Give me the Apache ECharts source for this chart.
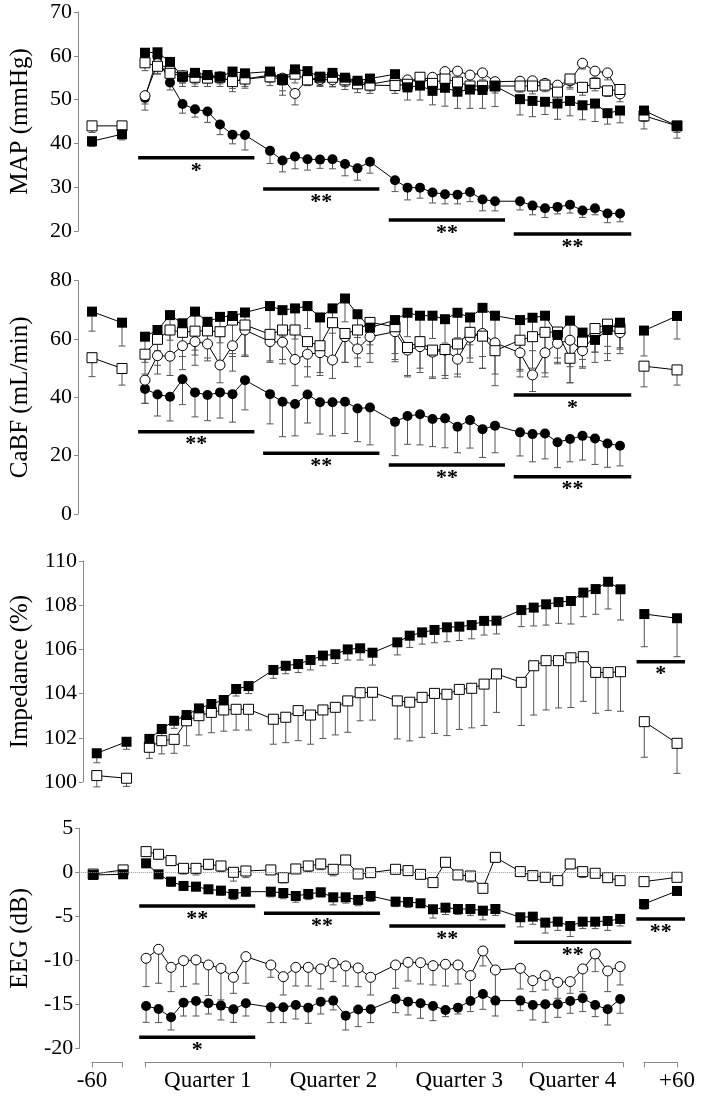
<!DOCTYPE html>
<html><head><meta charset="utf-8">
<script src="https://cdn.jsdelivr.net/npm/echarts@6/dist/echarts.min.js"></script>
<style>html,body{margin:0;padding:0;background:#fff}#c{width:703px;height:1102px}</style>
</head><body><div id="c"></div>
<script>
const N = null;
// x positions (slot units): pre (-60), four quarters of 9 samples, post (+60)
const xPre = [-4.24, -1.84];
const xMain = [0,1,2,3,4,5,6,7,8, 10,11,12,13,14,15,16,17,18, 20,21,22,23,24,25,26,27,28, 30,31,32,33,34,35,36,37,38];
const xPost = [39.92, 42.56];
const xAll = xPre.concat(xMain, xPost);
const sideLabels = ['-60', '+60'];
const quarterLabels = ['Quarter 1', 'Quarter 2', 'Quarter 3', 'Quarter 4'];
const yNames = ['MAP (mmHg)', 'CaBF (mL/min)', 'Impedance (%)', 'EEG (dB)'];

// ---------- MAP ----------
const mapSqF   = [40.5,42.1, 60.7,60.8,58.6,55.2,56.1,55.6,55.2,56.4,56.0, 56.4,54.5,56.9,56.5,55.2,56.1,55.0,54.3,54.8, 55.8,52.8,53.2,52.0,52.7,51.8,52.3,52.2,53.1, 50.1,49.7,49.5,49.1,49.7,48.7,49.1,46.9,47.5, 47.5,44.0];
const mapSqFLo = [39.3,40.8, 59.3,59.5,57.0,53.8,54.8,54.3,53.9,55.0,54.7, 55.0,51.0,55.3,55.0,53.6,54.7,53.4,52.6,53.2, 53.9,49.9,49.9,48.8,48.5,48.0,48.0,48.0,48.4, 46.5,46.1,46.6,45.5,46.3,45.4,45.0,44.4,44.7, 45.0,41.2];
const mapSqO   = [44.0,44.0, 58.4,57.6,56.0,55.4,55.1,54.9,55.1,54.1,54.7, 55.2,54.6,55.8,54.5,55.1,55.1,54.5,53.6,53.3, 53.2,53.5,55.1,53.7,54.7,54.0,53.1,53.1,53.1, 53.1,53.1,53.3,51.7,54.7,52.8,53.7,52.0,52.3, 46.3,44.0];
const mapSqOLo = [42.5,43.0, 56.6,55.8,54.0,53.0,53.0,53.0,53.0,51.8,52.6, 53.2,52.0,53.8,53.2,53.2,52.9,52.3,51.6,51.4, 51.4,51.8,53.4,51.6,52.9,52.4,51.5,51.5,51.5, 51.7,51.3,51.8,50.0,52.4,51.0,52.0,50.7,50.8, 43.3,42.5];
const mapCiO   = [N,N, 50.9,58.2,57.0,55.4,55.2,55.4,55.2,54.1,54.7, 55.6,54.9,51.4,54.6,54.6,54.5,54.5,54.1,53.5, 54.5,54.5,54.5,55.1,56.4,56.5,55.6,56.1,54.1, 54.2,54.3,53.7,53.3,54.3,58.3,56.5,56.1,51.3, N,N];
const mapCiOLo = [N,N, 49.0,56.0,55.5,53.8,53.6,53.8,53.6,52.5,53.0, 54.0,53.3,48.8,53.2,53.0,53.0,53.0,52.5,52.0, 53.0,53.0,53.0,53.6,54.9,55.0,54.1,54.5,52.6, 52.7,52.8,52.3,52.0,52.8,57.0,55.0,54.5,49.5, N,N];
const mapCiF   = [N,N, 50.4,59.7,53.9,49.0,47.8,47.3,44.3,42.0,41.9, 38.3,36.1,37.0,36.4,36.3,36.4,35.3,34.3,35.8, 31.6,29.9,29.9,28.8,28.4,28.3,28.9,27.2,26.8, 26.8,25.8,25.2,25.5,26.0,24.7,25.2,24.0,24.0, N,N];
const mapCiFLo = [N,N, 47.6,58.0,52.2,46.9,46.0,44.8,42.0,39.9,38.5, 35.4,33.5,34.2,33.9,34.3,34.2,32.6,31.6,33.2, 29.0,27.1,27.5,26.4,26.2,26.2,26.7,24.6,24.6, 24.8,23.7,23.1,23.9,24.1,23.1,23.7,21.9,22.1, N,N];
const mapSig = [[-0.55,8.75,36.7,'*'],[9.45,18.75,29.6,'**'],[19.5,28.8,22.5,'**'],[29.5,38.9,19.3,'**']];

// ---------- CaBF ----------
const cbfSqF   = [69.4,65.6, 60.8,63.1,68.2,65.4,69.4,65.9,67.6,67.9,69.1, 71.3,69.9,70.5,71.3,67.4,70.5,73.9,68.5,63.9, 66.5,69.0,68.0,68.0,66.8,69.0,67.4,70.7,68.0, 66.5,67.3,68.0,61.4,66.3,62.2,59.7,63.1,65.6, 62.9,67.9];
const cbfSqFLo = [62.7,57.6, 52.0,56.0,59.6,58.0,56.2,57.5,58.7,54.0,54.5, 62.0,61.0,60.0,63.6,57.9,62.0,65.9,60.5,58.0, 52.2,60.8,60.2,60.2,58.6,60.4,58.0,49.9,56.2, 49.6,56.0,48.4,52.0,45.0,53.0,52.0,52.6,55.0, 54.2,60.0];
const cbfSqO   = [53.6,49.9, 54.8,59.9,63.1,62.3,62.7,62.8,62.5,66.5,64.8, 61.6,63.1,63.1,59.1,57.7,65.6,61.9,63.1,65.7, 64.2,57.1,59.1,56.2,56.4,58.3,62.3,61.0,56.0, 59.6,60.8,62.3,62.4,53.4,59.1,63.6,65.1,63.6, 50.7,49.4];
const cbfSqOLo = [47.1,44.2, 48.0,51.0,55.0,54.0,54.5,53.5,51.0,55.0,54.0, 52.0,53.0,52.5,50.5,47.5,53.0,52.0,53.5,55.0, 53.0,47.0,50.0,47.0,46.5,48.0,52.0,50.0,44.0, 49.0,50.0,54.0,53.5,45.0,50.0,55.5,55.0,56.5, 43.6,44.2];
const cbfCiO   = [N,N, 45.9,54.3,54.1,57.7,59.1,58.3,51.1,57.7,63.1, 59.1,58.9,53.0,54.8,55.3,52.8,60.8,56.6,60.8, 62.5,56.2,57.4,55.5,56.2,53.1,60.6,61.9,58.7, 55.3,47.7,55.3,58.5,59.6,56.0,61.4,63.3,62.2, N,N];
const cbfCiOLo = [N,N, 38.0,48.0,47.5,49.5,51.0,52.5,45.0,49.0,54.0, 52.5,51.5,44.0,47.0,48.5,46.5,52.0,50.5,52.0, 55.0,47.5,48.5,46.5,47.5,47.0,53.5,54.0,48.0, 47.0,42.0,47.0,51.5,50.5,50.5,55.5,57.5,57.0, N,N];
const cbfCiF   = [N,N, 42.9,41.0,40.2,46.2,41.7,40.8,41.7,41.1,45.9, 41.1,38.5,37.7,41.0,38.3,38.3,38.5,36.2,36.5, 31.6,33.6,34.2,32.6,32.8,29.9,32.2,29.1,30.3, 28.0,27.4,27.6,24.6,25.7,26.8,25.9,24.2,23.4, N,N];
const cbfCiFLo = [N,N, 37.9,33.6,31.9,37.5,33.3,32.0,32.9,31.5,35.7, 30.9,26.5,26.8,31.2,27.4,26.8,27.6,24.8,23.7, 20.0,23.9,23.7,23.1,22.7,21.0,22.6,19.4,21.0, 19.9,17.9,18.9,15.9,17.9,18.5,17.0,16.0,16.5, N,N];
const cbfSig = [[-0.55,8.75,28.2,'**'],[9.45,18.75,20.8,'**'],[19.5,28.8,16.8,'**'],[29.5,38.9,12.8,'**'],[29.5,38.9,40.8,'*']];

// ---------- Impedance ----------
const impSqF   = [101.30,101.82, 101.95,102.40,102.77,103.03,103.33,103.53,103.71,104.21,104.34, 105.07,105.26,105.34,105.52,105.72,105.78,106.00,106.05,105.85, 106.32,106.62,106.77,106.88,107.00,107.03,107.10,107.29,107.30, 107.78,107.89,108.04,108.14,108.19,108.57,108.73,109.06,108.72, 107.60,107.41];
const impSqFLo = [100.87,101.48, 101.60,102.05,102.43,102.73,103.00,103.26,103.45,103.89,104.00, 104.69,104.90,104.95,105.07,105.26,105.36,105.52,105.52,105.29, 105.75,106.09,106.24,106.30,106.35,106.40,106.48,106.65,106.70, 107.03,107.06,107.10,107.18,107.15,107.48,107.59,107.83,107.33, 106.12,105.67];
const impSqO   = [100.29,100.17, 101.57,101.87,101.93,102.77,103.00,103.15,103.26,103.29,103.29, 102.84,102.93,103.23,103.03,103.26,103.38,103.67,104.04,104.06, 103.67,103.61,103.83,104.01,103.97,104.19,104.24,104.43,104.89, 104.51,105.26,105.49,105.49,105.62,105.67,104.96,104.95,104.99, 102.73,101.75];
const impSqOLo = [99.78,99.80, 101.07,101.27,101.30,101.64,102.13,102.23,102.30,102.35,102.35, 101.71,101.78,101.87,101.71,101.97,102.13,102.25,102.77,102.80, 101.95,101.86,102.02,102.20,102.10,102.38,102.45,102.56,103.15, 102.56,103.03,103.26,103.35,103.37,103.65,103.11,103.24,103.20, 101.12,100.39];
const impSig = [[39.3,43.2,105.44,'*']];

// ---------- EEG ----------
const eegSqF   = [-0.30,-0.23, 1.02,-0.23,-1.06,-1.55,-1.63,-1.93,-2.08,-2.46,-2.20, -2.20,-2.35,-2.69,-2.46,-2.27,-2.84,-2.84,-3.14,-2.69, -3.33,-3.37,-3.52,-4.20,-4.02,-4.17,-4.17,-4.36,-4.17, -5.11,-5.04,-5.72,-5.61,-6.10,-5.61,-5.61,-5.53,-5.30, -3.60,-2.12];
const eegSqFLo = [-0.6,-0.5, 0.6,-0.6,-1.6,-2.0,-2.1,-2.4,-2.6,-3.1,-2.7, -2.8,-3.0,-3.4,-3.1,-2.8,-3.7,-3.5,-3.8,-3.3, -3.9,-4.0,-4.0,-5.2,-4.8,-4.8,-4.9,-5.4,-4.9, -6.2,-5.9,-6.9,-6.6,-7.3,-6.4,-6.4,-6.6,-6.1, -4.2,-2.4];
const eegSqO   = [-0.20,0.27, 2.35,2.05,1.33,0.45,0.45,0.91,0.72,0.00,0.15, 0.27,-0.61,0.38,0.72,0.95,0.34,1.40,-0.19,-0.04, 0.34,0.19,-0.23,-1.17,1.14,-0.30,-0.42,-1.82,1.70, 0.08,-0.38,-0.57,-0.95,0.95,0.08,-0.11,-0.61,-0.95, -1.06,-0.57];
const eegSqOLo = [-0.5,0.0, 2.0,1.5,0.9,-0.2,-0.3,0.3,0.1,-1.0,-0.6, -0.1,-1.2,-0.1,0.1,0.3,-0.4,0.9,-0.6,-0.5, -0.1,-0.3,-0.6,-1.6,0.6,-0.7,-1.1,-2.0,1.2, -0.3,-0.7,-0.9,-1.5,0.4,-0.6,-0.6,-1.1,-1.3, N,N];
const eegCiO   = [N,N, -9.77,-8.75,-10.80,-10.04,-9.96,-10.53,-10.91,-11.93,-9.58, -10.53,-11.86,-10.80,-10.80,-10.98,-10.34,-10.64,-10.87,-11.93, -10.53,-10.23,-10.27,-10.61,-10.45,-10.53,-11.74,-8.94,-11.10, -10.91,-12.31,-11.74,-12.50,-12.42,-10.98,-9.28,-11.21,-10.72, N,N];
const eegCiOLo = [N,N, -12.99,-12.61,-13.56,-12.99,-12.69,-14.00,-14.50,-13.75,-12.61, -11.93,-13.94,-12.92,-12.92,-13.26,-12.42,-12.92,-13.00,-13.94, -13.18,-12.35,-12.69,-12.80,-12.92,-12.69,-14.89,-10.64,-14.30, -13.26,-13.56,-13.37,-14.32,-13.75,-13.56,-11.29,-13.56,-12.80, N,N];
const eegCiF   = [N,N, -15.19,-15.53,-16.48,-14.81,-14.62,-14.89,-15.15,-15.57,-14.89, -15.34,-15.34,-15.08,-15.38,-14.70,-14.58,-16.29,-15.60,-15.57, -14.39,-14.70,-14.89,-15.19,-15.64,-15.38,-14.62,-13.83,-14.58, -14.58,-15.08,-15.00,-15.00,-14.62,-14.32,-15.08,-15.57,-14.39, N,N];
const eegCiFLo = [N,N, -17.05,-17.08,-17.92,-16.33,-16.33,-16.10,-16.78,-17.05,-16.33, -17.08,-17.08,-16.67,-17.16,-16.10,-15.64,-17.92,-17.54,-17.08, -15.95,-16.21,-16.59,-16.86,-16.40,-16.10,-15.83,-15.57,-16.33, -15.72,-16.78,-17.05,-16.48,-16.02,-15.83,-16.40,-17.35,-16.02, N,N];
const eegSig = [[-0.55,8.75,-3.83,'**'],[9.45,18.75,-4.66,'**'],[19.5,28.8,-6.10,'**'],[29.5,38.9,-7.95,'**'],[39.3,43.2,-5.31,'**'],[-0.55,8.75,-18.75,'*']];

// ---------- layout ----------
const FONT = 'Liberation Serif';
const XMIN = -5.36, XMAX = 42.9, UNIT = 12.5, LEFT = 78;
const panels = [
  {top: 12,    height: 219,   min: 20,  max: 70,  interval: 10},
  {top: 280.7, height: 233.3, min: 0,   max: 80,  interval: 20},
  {top: 561,   height: 221,   min: 100, max: 110, interval: 2},
  {top: 828.3, height: 220,   min: -20, max: 5,   interval: 5}
];

const grids = [], xAxes = [], yAxes = [], series = [];
panels.forEach((p, i) => {
  grids.push({left: LEFT, top: p.top, width: (XMAX - XMIN) * UNIT, height: p.height});
  xAxes.push({type: 'value', gridIndex: i, min: XMIN, max: XMAX, show: false});
  yAxes.push({type: 'value', gridIndex: i, min: p.min, max: p.max, interval: p.interval,
    axisLine: {show: true, onZero: false, lineStyle: {color: '#888', width: 1}},
    axisTick: {show: true, length: 4, lineStyle: {color: '#888'}},
    splitLine: {show: false},
    axisLabel: {fontSize: 22, fontFamily: FONT, color: '#000', margin: 6},
    name: yNames[i], nameLocation: 'middle', nameGap: 45,
    nameTextStyle: {fontSize: 25, fontFamily: FONT, color: '#000'}
  });
});

// bottom period axes
const bottomDefs = [
  {left: 92,  width: 30,  data: [sideLabels[0], ''], gap: false},
  {left: 145, width: 377, data: quarterLabels.slice(0, 3), gap: true},
  {left: 522, width: 101, data: quarterLabels.slice(3), gap: true},
  {left: 644, width: 33,  data: ['', sideLabels[1]], gap: false}
];
bottomDefs.forEach((b, k) => {
  const gi = 4 + k;
  grids.push({left: b.left, width: b.width, top: 1050, height: 12.3});
  xAxes.push({type: 'category', gridIndex: gi, data: b.data, boundaryGap: b.gap,
    axisLine: {show: true, onZero: false, lineStyle: {color: '#888'}},
    axisTick: {show: true, length: 5, lineStyle: {color: '#888'}},
    axisLabel: {fontSize: 23, fontFamily: FONT, color: '#000', margin: 7, interval: 0}
  });
  yAxes.push({type: 'value', gridIndex: gi, show: false});
});

function segments(vals) {
  const out = [[], [], []];
  vals.forEach((v, i) => {
    if (v == null) return;
    const s = i < 2 ? 0 : (i < 38 ? 1 : 2);
    out[s].push([xAll[i], v]);
  });
  return out.filter(s => s.length);
}
function addLine(gi, vals, symbol, filled, extra) {
  segments(vals).forEach((d, k) => {
    const s = {type: 'line', xAxisIndex: gi, yAxisIndex: gi, data: d, silent: true,
      symbol: symbol, symbolSize: 10, showAllSymbol: true,
      lineStyle: {color: '#000', width: 1},
      itemStyle: filled ? {color: '#000', borderColor: '#000', borderWidth: 0}
                        : {color: '#fff', borderColor: '#000', borderWidth: 1},
      emphasis: {disabled: true}, animation: false, z: 3};
    if (extra && k === 0) Object.assign(s, extra);
    series.push(s);
  });
}
function addErr(gi, vals, lows) {
  const data = [];
  vals.forEach((v, i) => { if (v != null && lows[i] != null) data.push([xAll[i], v, lows[i]]); });
  series.push({type: 'custom', xAxisIndex: gi, yAxisIndex: gi, clip: false, silent: true, z: 2,
    animation: false, encode: {x: 0, y: [1, 2]}, data: data,
    renderItem: function (params, api) {
      const a = api.coord([api.value(0), api.value(1)]);
      const b = api.coord([api.value(0), api.value(2)]);
      return {type: 'group', children: [
        {type: 'line', shape: {x1: a[0], y1: a[1], x2: b[0], y2: b[1]}, style: {stroke: '#555', lineWidth: 1}},
        {type: 'line', shape: {x1: b[0] - 3.5, y1: b[1], x2: b[0] + 3.5, y2: b[1]}, style: {stroke: '#555', lineWidth: 1}}
      ]};
    }});
}
function addSig(gi, sig) {
  series.push({type: 'custom', xAxisIndex: gi, yAxisIndex: gi, clip: false, silent: true, z: 4,
    animation: false, data: sig.map(s => [s[0], s[1], s[2]]),
    renderItem: function (params, api) {
      const a = api.coord([api.value(0), api.value(2)]);
      const b = api.coord([api.value(1), api.value(2)]);
      return {type: 'group', children: [
        {type: 'line', shape: {x1: a[0], y1: a[1], x2: b[0], y2: b[1]}, style: {stroke: '#000', lineWidth: 3.5}},
        {type: 'text', style: {text: sig[params.dataIndex][3], x: (a[0] + b[0]) / 2, y: a[1] + 2,
          align: 'center', verticalAlign: 'top', font: 'bold 22px ' + FONT, fill: '#000'}}
      ]};
    }});
}

// MAP
addErr(0, mapCiF, mapCiFLo); addErr(0, mapCiO, mapCiOLo); addErr(0, mapSqO, mapSqOLo); addErr(0, mapSqF, mapSqFLo);
addLine(0, mapCiF, 'circle', true); addLine(0, mapCiO, 'circle', false); addLine(0, mapSqO, 'rect', false); addLine(0, mapSqF, 'rect', true);
addSig(0, mapSig);
// CaBF
addErr(1, cbfCiF, cbfCiFLo); addErr(1, cbfCiO, cbfCiOLo); addErr(1, cbfSqO, cbfSqOLo); addErr(1, cbfSqF, cbfSqFLo);
addLine(1, cbfCiF, 'circle', true); addLine(1, cbfCiO, 'circle', false); addLine(1, cbfSqO, 'rect', false); addLine(1, cbfSqF, 'rect', true);
addSig(1, cbfSig);
// Impedance
addErr(2, impSqO, impSqOLo); addErr(2, impSqF, impSqFLo);
addLine(2, impSqO, 'rect', false); addLine(2, impSqF, 'rect', true);
addSig(2, impSig);
// EEG
addErr(3, eegCiF, eegCiFLo); addErr(3, eegCiO, eegCiOLo); addErr(3, eegSqO, eegSqOLo); addErr(3, eegSqF, eegSqFLo);
addLine(3, eegCiF, 'circle', true, {markLine: {silent: true, symbol: 'none', animation: false,
  lineStyle: {type: 'dotted', color: '#999', width: 1}, label: {show: false}, data: [{yAxis: 0}]}});
addLine(3, eegCiO, 'circle', false); addLine(3, eegSqO, 'rect', false); addLine(3, eegSqF, 'rect', true);
addSig(3, eegSig);

const chart = echarts.init(document.getElementById('c'), null, {renderer: 'canvas'});
chart.setOption({backgroundColor: '#fff', animation: false, grid: grids, xAxis: xAxes, yAxis: yAxes, series: series});
</script></body></html>
